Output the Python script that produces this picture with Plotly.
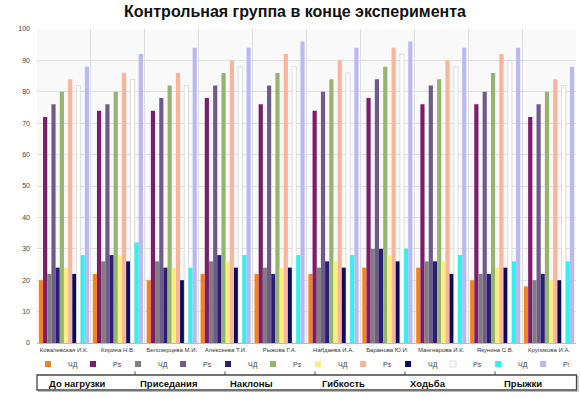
import plotly.graph_objects as go

# ---------------- data ----------------
names = ["Ковалевская И.К.", "Кирина Н.В.", "Белозерцева М.И.", "Алексеева Т.И.",
         "Рыжова Г.А.", "Набдаева И.А.", "Баранова Ю.И.", "Мангнарова И.К.",
         "Якунина С.В.", "Крупикова И.А."]

group_labels = ["До нагрузки", "Приседания", "Наклоны", "Гибкость", "Ходьба", "Прыжки"]
measure_labels = ["ЧД", "Ps"]

chd_do   = [20, 22, 20, 22, 22, 22, 24, 24, 20, 18]
ps_do    = [72, 74, 74, 78, 76, 74, 78, 76, 76, 72]
chd_pris = [22, 26, 26, 26, 24, 24, 30, 26, 22, 20]
ps_pris  = [76, 76, 78, 82, 82, 80, 84, 82, 80, 76]
chd_nakl = [24, 28, 24, 28, 22, 26, 30, 26, 22, 22]
ps_nakl  = [80, 80, 82, 86, 86, 84, 88, 84, 86, 80]
chd_gib  = [24, 28, 24, 26, 24, 26, 28, 26, 24, 20]
ps_gib   = [84, 86, 86, 90, 92, 90, 94, 90, 92, 84]
chd_hod  = [22, 26, 20, 24, 24, 24, 26, 22, 24, 20]
ps_hod   = [82, 84, 82, 88, 88, 86, 92, 88, 90, 82]
chd_pry  = [28, 32, 24, 28, 28, 28, 30, 28, 26, 26]
ps_pry   = [88, 92, 94, 94, 96, 94, 96, 94, 94, 88]

series = [chd_do, ps_do, chd_pris, ps_pris, chd_nakl, ps_nakl,
          chd_gib, ps_gib, chd_hod, ps_hod, chd_pry, ps_pry]

y_ticks = [0, 10, 20, 30, 40, 50, 60, 70, 80, 90, 100]

# ---------------- style ----------------
colors = ["#F5821F", "#7E1B6B", "#7F7F7F", "#6E5B8C", "#2B1E78", "#97B46E",
          "#F7EF85", "#F9B49A", "#0A0A5E", "#FFFFFF", "#2EF3EE", "#B9B8F2"]
line_colors = [c if c != "#FFFFFF" else "#C8C8C8" for c in colors]

W, H = 580, 398
ML, MR, MT, MB = 37, 4, 29, 55
PW = W - ML - MR
PH = H - MT - MB


def px_x(p):
    return (p - ML) / PW


def px_y(p):
    return (H - MB - p) / PH


fig = go.Figure()

for i, vals in enumerate(series):
    label = measure_labels[i % 2]
    grp = group_labels[i // 2]
    is_white = colors[i] == "#FFFFFF"
    fig.add_trace(go.Bar(
        x=names, y=vals, name=label, showlegend=False,
        legendgroup=f"g{i}",
        marker=dict(color=colors[i],
                    line=dict(color=line_colors[i], width=0.6 if is_white else 0)),
        hovertemplate=f"{grp} {label}: %{{y}}<extra>%{{x}}</extra>",
    ))
    # legend proxy with small square symbol
    fig.add_trace(go.Scatter(
        x=[None], y=[None], mode="markers", name=label,
        legendgroup=f"g{i}", showlegend=True,
        marker=dict(symbol="square", size=6, color=colors[i],
                    line=dict(color=line_colors[i], width=0.6 if is_white else 0)),
    ))

shapes = []
# group box under legend
shapes.append(dict(type="rect", xref="paper", yref="paper",
                   x0=px_x(38.5), x1=px_x(578), y0=px_y(391.5), y1=px_y(376.5),
                   line=dict(color="#BBBBBB", width=1.2), fillcolor="rgba(0,0,0,0)", layer="above"))
shapes.append(dict(type="rect", xref="paper", yref="paper",
                   x0=px_x(37), x1=px_x(576.5), y0=px_y(390), y1=px_y(375),
                   line=dict(color="#444444", width=1.3), fillcolor="white", layer="above"))
for p in [135, 225, 315, 405, 495]:
    shapes.append(dict(type="line", xref="paper", yref="paper",
                       x0=px_x(p), x1=px_x(p), y0=px_y(375), y1=px_y(371.5),
                       line=dict(color="#444444", width=1)))

annotations = []
label_px = [47, 138, 228, 320, 408, 502]
for lab, p in zip(group_labels, label_px):
    annotations.append(dict(text=f"<b>{lab}</b>", xref="paper", yref="paper",
                            x=px_x(p), y=px_y(383), xanchor="left", yanchor="middle",
                            showarrow=False,
                            font=dict(family="Liberation Sans, Arial", size=9.5, color="#111111")))

fig.update_layout(
    width=W, height=H,
    margin=dict(l=ML, r=MR, t=MT, b=MB, autoexpand=False),
    paper_bgcolor="white",
    plot_bgcolor="#F9F9F9",
    barmode="group",
    bargap=0.07,
    bargroupgap=0,
    title=dict(text="<b>Контрольная группа в конце эксперимента</b>",
               x=295 / W, xref="container", xanchor="center",
               y=1 - 11 / H, yref="container", yanchor="middle",
               font=dict(family="Liberation Sans, Arial", size=16, color="#111111")),
    font=dict(family="Liberation Sans, Arial", color="#444444"),
    xaxis=dict(type="category", tickson="boundaries", showgrid=True,
               gridcolor="#DDDDDD", gridwidth=1, ticks="", showline=False,
               tickangle=0, automargin=False,
               tickfont=dict(size=6, color="#333333"), ticklabelstandoff=2),
    yaxis=dict(range=[0, 100], tickvals=y_ticks, showgrid=True, gridcolor="#E0E0E0",
               gridwidth=1, zeroline=True, zerolinecolor="#BBBBBB", zerolinewidth=1,
               automargin=False,
               tickfont=dict(size=7, color="#444444"), ticks="", ticklabelstandoff=6),
    showlegend=True,
    legend=dict(orientation="h", x=px_x(28), xanchor="left",
                y=px_y(364), yanchor="middle", xref="paper", yref="paper",
                font=dict(size=7, color="#444444"), itemwidth=30,
                entrywidth=0.01, entrywidthmode="pixels",
                bgcolor="rgba(0,0,0,0)", borderwidth=0, traceorder="normal",
                itemclick=False, itemdoubleclick=False, tracegroupgap=0),
    shapes=shapes,
    annotations=annotations,
)

fig.write_html("out.html",
               config={"displayModeBar": False},
               post_script="document.body.style.margin='0px';document.body.style.overflow='hidden';")
